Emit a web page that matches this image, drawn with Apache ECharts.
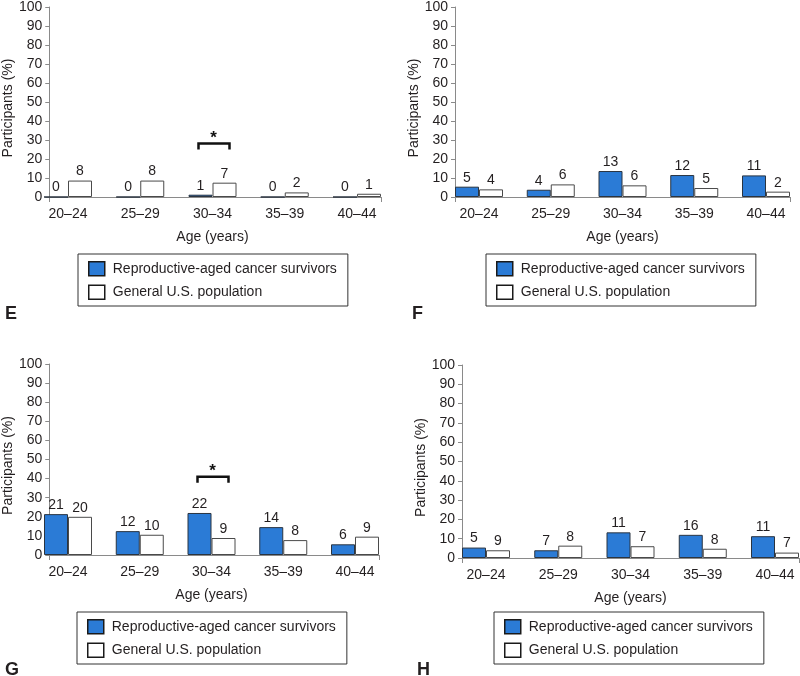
<!DOCTYPE html>
<html>
<head>
<meta charset="utf-8">
<script src="https://cdn.jsdelivr.net/npm/echarts@6/dist/echarts.min.js"></script>
<style>html,body{margin:0;padding:0;background:#fff;}#c{width:800px;height:676px;}</style>
</head>
<body>
<div id="c"></div>
<script>
// ---- data ----
const categories = ['20–24', '25–29', '30–34', '35–39', '40–44'];
const seriesNames = ['Reproductive-aged cancer survivors', 'General U.S. population'];
const yTicks = [0, 100, 10]; // min, max, interval

const survivorsE = [0, 0, 1.2, 0, 0];
const generalE   = [8.6, 8.6, 7.5, 2.4, 1.7];
const survivorsLabelsE = ['0', '0', '1', '0', '0'];
const generalLabelsE   = ['8', '8', '7', '2', '1'];

const survivorsF = [5.4, 3.8, 13.6, 11.5, 11.3];
const generalF   = [4.0, 6.6, 6.1, 4.7, 2.8];
const survivorsLabelsF = ['5', '4', '13', '12', '11'];
const generalLabelsF   = ['4', '6', '6', '5', '2'];

const survivorsG = [21.4, 12.5, 22.0, 14.6, 5.6];
const generalG   = [20.0, 10.6, 8.9, 7.8, 9.6];
const survivorsLabelsG = ['21', '12', '22', '14', '6'];
const generalLabelsG   = ['20', '10', '9', '8', '9'];

const survivorsH = [5.4, 4.0, 13.3, 12.0, 11.3];
const generalH   = [4.0, 6.4, 6.1, 4.8, 2.8];
const survivorsLabelsH = ['5', '7', '11', '16', '11'];
const generalLabelsH   = ['9', '8', '7', '8', '7'];

const significanceE = ['30–34', 28];
const significanceG = ['30–34', 41];

// ---- layout ----
const FONT = '"Liberation Sans", Arial, sans-serif';
const TXT = '#231f20';
const AXC = '#8a8a8a';
const BLUE = '#2b7bd6';
const BARW = 24;

const panels = [
  {letter: 'E', s: survivorsE, g: generalE, sl: survivorsLabelsE, gl: generalLabelsE, sig: significanceE,
   ax: {left: 44, top: 6, width: 337, height: 191}, legend: {left: 78, top: 254}, letterPos: [5, 305]},
  {letter: 'F', s: survivorsF, g: generalF, sl: survivorsLabelsF, gl: generalLabelsF, sig: null,
   ax: {left: 455, top: 6, width: 335, height: 191}, legend: {left: 486, top: 254}, letterPos: [412, 305]},
  {letter: 'G', s: survivorsG, g: generalG, sl: survivorsLabelsG, gl: generalLabelsG, sig: significanceG,
   ax: {left: 44, top: 364, width: 335, height: 191}, legend: {left: 77, top: 612}, letterPos: [5, 661]},
  {letter: 'H', s: survivorsH, g: generalH, sl: survivorsLabelsH, gl: generalLabelsH, sig: null,
   ax: {left: 462, top: 365, width: 337, height: 193}, legend: {left: 494, top: 612}, letterPos: [417, 661]}
];

const grid = [], xAxis = [], yAxis = [], series = [], legend = [], graphic = [];

panels.forEach((p, i) => {
  const a = p.ax;
  grid.push({left: a.left + BARW, top: a.top, width: a.width - 2 * BARW, height: a.height, containLabel: false});
  grid.push({left: a.left, top: a.top, width: a.width, height: a.height, containLabel: false});
  const gb = 2 * i, ga = 2 * i + 1;

  xAxis.push({
    type: 'category', gridIndex: gb, data: categories, boundaryGap: false,
    axisLine: {show: false}, axisTick: {show: false},
    axisLabel: {fontSize: 14, color: TXT, fontFamily: FONT, margin: 10, interval: 0},
    name: 'Age (years)', nameLocation: 'middle', nameGap: 33,
    nameTextStyle: {fontSize: 14, color: TXT, fontFamily: FONT}
  });
  xAxis.push({
    type: 'value', gridIndex: ga, min: 0, max: 1, interval: 1,
    axisLine: {show: true, lineStyle: {color: AXC, width: 1}},
    axisTick: {show: true, length: 5, lineStyle: {color: AXC}},
    axisLabel: {show: false}, splitLine: {show: false}
  });
  yAxis.push({type: 'value', gridIndex: gb, min: yTicks[0], max: yTicks[1], interval: yTicks[2], show: false});
  yAxis.push({
    type: 'value', gridIndex: ga, min: yTicks[0], max: yTicks[1], interval: yTicks[2],
    axisLine: {show: true, lineStyle: {color: AXC, width: 1}},
    axisTick: {show: true, length: 4, lineStyle: {color: AXC}},
    axisLabel: {fontSize: 14, color: TXT, fontFamily: FONT, margin: 7},
    splitLine: {show: false},
    name: 'Participants (%)', nameLocation: 'middle', nameGap: 27,
    nameTextStyle: {fontSize: 14, color: TXT, fontFamily: FONT, padding: [0, 12, 0, 0]}
  });

  const lblStyle = {show: true, position: 'top', distance: 2, fontSize: 14, color: TXT, fontFamily: FONT};
  series.push({
    type: 'bar', name: seriesNames[0], xAxisIndex: gb, yAxisIndex: gb, data: p.s,
    barWidth: BARW, barGap: '0%', clip: false,
    itemStyle: {color: BLUE, borderColor: '#2a3440', borderWidth: 1},
    label: Object.assign({}, lblStyle, {formatter: (d) => p.sl[d.dataIndex]})
  });
  series.push({
    type: 'bar', name: seriesNames[1], xAxisIndex: gb, yAxisIndex: gb, data: p.g,
    barWidth: BARW, barGap: '0%', clip: false,
    itemStyle: {color: '#ffffff', borderColor: '#4a4a4a', borderWidth: 1},
    label: Object.assign({}, lblStyle, {formatter: (d) => p.gl[d.dataIndex]})
  });
  if (p.sig) {
    series.push({
      type: 'custom', xAxisIndex: gb, yAxisIndex: gb, data: [p.sig], clip: false, silent: true,
      renderItem: (params, api) => {
        const pt = api.coord([api.value(0), api.value(1)]);
        const x0 = pt[0] - 14, x1 = pt[0] + 17, y = pt[1];
        return {
          type: 'group',
          children: [
            {type: 'polyline', shape: {points: [[x0, y + 6], [x0, y], [x1, y], [x1, y + 6]]},
             style: {stroke: '#111', lineWidth: 2.5, fill: null}},
            {type: 'text', style: {text: '*', x: pt[0] + 1, y: y - 5, align: 'center', verticalAlign: 'middle',
             fill: '#111', font: 'bold 17px ' + FONT}}
          ]
        };
      }
    });
  }

  legend.push({
    show: true, orient: 'vertical', left: p.legend.left, top: p.legend.top,
    data: seriesNames, icon: 'rect', itemWidth: 16, itemHeight: 14, itemGap: 8,
    padding: [7, 11, 6, 10], borderColor: '#333', borderWidth: 1,
    selectedMode: false,
    itemStyle: {borderColor: '#1a1a1a', borderWidth: 1.5},
    textStyle: {fontSize: 14, color: TXT, fontFamily: FONT, padding: [0, 0, 0, 3]}
  });

  graphic.push({
    type: 'text', left: p.letterPos[0], top: p.letterPos[1],
    style: {text: p.letter, font: 'bold 18px ' + FONT, fill: TXT}
  });
});

const chart = echarts.init(document.getElementById('c'), null, {renderer: 'canvas'});
chart.setOption({
  animation: false,
  backgroundColor: '#ffffff',
  textStyle: {fontFamily: FONT},
  grid, xAxis, yAxis, series, legend, graphic
});
</script>
</body>
</html>
